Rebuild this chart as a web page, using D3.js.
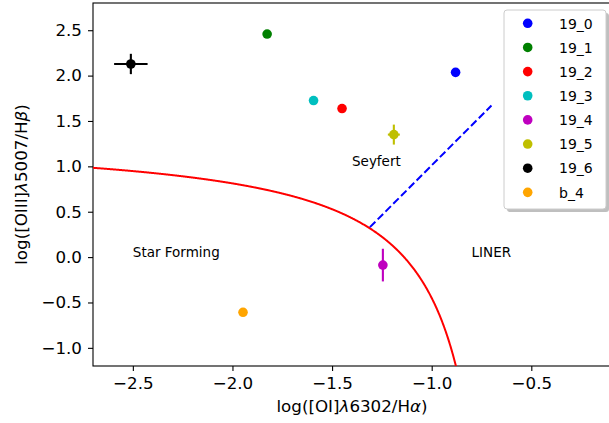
<!DOCTYPE html>
<html>
<head>
<meta charset="utf-8">
<script src="https://cdn.jsdelivr.net/npm/d3@7"></script>
<style>
  html, body { margin: 0; padding: 0; background: #fff; }
  svg { display: block; font-family: "DejaVu Sans", sans-serif; }
</style>
</head>
<body>
<svg id="chart" width="609" height="423"></svg>
<script>
// ---- data ----
const names  = ["19_0", "19_1", "19_2", "19_3", "19_4", "19_5", "19_6", "b_4"];
const xVals  = [-0.88, -1.826, -1.45, -1.593, -1.245, -1.19, -2.51, -1.947];
const yVals  = [2.036, 2.458, 1.637, 1.725, -0.088, 1.35, 2.128, -0.608];
const xErrs  = [0, 0, 0, 0, 0.02, 0.03, 0.084, 0];
const yErrs  = [0, 0, 0, 0, 0.18, 0.11, 0.112, 0];
const colors = ["#0000ff", "#008000", "#ff0000", "#00bfbf", "#bf00bf", "#bfbf00", "#000000", "#ffa500"];

const xTicks = [-2.5, -2.0, -1.5, -1.0, -0.5];
const yTicks = [-1.0, -0.5, 0.0, 0.5, 1.0, 1.5, 2.0, 2.5];

// Kewley et al. (2006) [OI] star-forming boundary: y = a/(x + b) + c
const kewleyCoef = [0.73, 0.59, 1.33];
// Seyfert / LINER dividing line end points
const seyLineX = [-1.31, -0.70];
const seyLineY = [0.33, 1.67];

const regionLabels = ["Star Forming", "Seyfert", "LINER"];
const regionX = [-2.5, -1.4, -0.8];
const regionY = [0.0, 1.0, 0.0];

// ---- layout ----
const svg = d3.select("#chart");
const L = 93, R = 611, T = 3, B = 366;
const x = d3.scaleLinear().domain([-2.7, -0.1]).range([L, R]);
const y = d3.scaleLinear().domain([-1.2, 2.8]).range([B, T]);
const fmt = d3.format(".1f");

svg.append("defs").append("clipPath").attr("id", "clip")
  .append("rect").attr("x", L).attr("y", T).attr("width", R - L).attr("height", B - T);

// axes
const xAxis = svg.append("g").attr("transform", `translate(0,${B})`)
  .call(d3.axisBottom(x).tickValues(xTicks).tickFormat(fmt).tickSize(5).tickPadding(6).tickSizeOuter(0));
const yAxis = svg.append("g").attr("transform", `translate(${L},0)`)
  .call(d3.axisLeft(y).tickValues(yTicks).tickFormat(fmt).tickSize(5).tickPadding(6).tickSizeOuter(0));
[xAxis, yAxis].forEach(g => {
  g.select(".domain").remove();
  g.selectAll("text").attr("font-size", 16.7).attr("font-family", "DejaVu Sans").attr("fill", "#000");
  g.selectAll("line").attr("stroke", "#000").attr("stroke-width", 1.1);
});

// spines
svg.append("rect").attr("x", L).attr("y", T).attr("width", R - L).attr("height", B - T)
  .attr("fill", "none").attr("stroke", "#000").attr("stroke-width", 1.1);

const plot = svg.append("g").attr("clip-path", "url(#clip)");

// Kewley curve
const [ka, kb, kc] = kewleyCoef;
const curvePts = d3.range(-2.7, -0.62, 0.002).map(v => [v, ka / (v + kb) + kc]);
plot.append("path")
  .attr("d", d3.line().x(d => x(d[0])).y(d => y(Math.max(d[1], -5)))(curvePts))
  .attr("fill", "none").attr("stroke", "#ff0000").attr("stroke-width", 2);

// Seyfert/LINER line
plot.append("path")
  .attr("d", d3.line().x(d => x(d[0])).y(d => y(d[1]))(seyLineX.map((v, i) => [v, seyLineY[i]])))
  .attr("fill", "none").attr("stroke", "#0000ff").attr("stroke-width", 2)
  .attr("stroke-dasharray", "7.7,3.3");

// region labels
svg.selectAll("text.region").data(regionLabels).enter().append("text")
  .attr("class", "region")
  .attr("x", (d, i) => x(regionX[i])).attr("y", (d, i) => y(regionY[i]))
  .attr("font-size", 13.5).attr("fill", "#000").text(d => d);

// points with error bars
names.forEach((n, i) => {
  const g = plot.append("g");
  if (xErrs[i] > 0) {
    g.append("line").attr("x1", x(xVals[i] - xErrs[i])).attr("x2", x(xVals[i] + xErrs[i]))
      .attr("y1", y(yVals[i])).attr("y2", y(yVals[i]))
      .attr("stroke", colors[i]).attr("stroke-width", 2.1);
  }
  if (yErrs[i] > 0) {
    g.append("line").attr("x1", x(xVals[i])).attr("x2", x(xVals[i]))
      .attr("y1", y(yVals[i] - yErrs[i])).attr("y2", y(yVals[i] + yErrs[i]))
      .attr("stroke", colors[i]).attr("stroke-width", 2.1);
  }
  g.append("circle").attr("cx", x(xVals[i])).attr("cy", y(yVals[i])).attr("r", 4.8)
    .attr("fill", colors[i]);
});

// legend
const lg = svg.append("g");
const lx = 504, ly = 10, lw = 102, lh = 199;
lg.append("rect").attr("x", lx + 3).attr("y", ly + 3).attr("width", lw).attr("height", lh)
  .attr("rx", 3).attr("fill", "#808080").attr("opacity", 0.5);
lg.append("rect").attr("x", lx).attr("y", ly).attr("width", lw).attr("height", lh)
  .attr("rx", 3).attr("fill", "#fff").attr("stroke", "#cccccc").attr("stroke-width", 1);
names.forEach((n, i) => {
  const cy = 23.3 + i * 24.15;
  lg.append("circle").attr("cx", 527.7).attr("cy", cy).attr("r", 4.8).attr("fill", colors[i]);
  lg.append("text").attr("x", 559).attr("y", cy + 5.2).attr("font-size", 14).attr("fill", "#000").text(n);
});

// axis labels
const xl = svg.append("text").attr("x", (L + R) / 2).attr("y", 412).attr("text-anchor", "middle")
  .attr("font-size", 16.7).attr("fill", "#000");
xl.append("tspan").text("log([OI]");
xl.append("tspan").attr("font-style", "italic").text("λ");
xl.append("tspan").text("6302/H");
xl.append("tspan").attr("font-style", "italic").text("α");
xl.append("tspan").text(")");

const yl = svg.append("text").attr("transform", `translate(27,${(T + B) / 2}) rotate(-90)`)
  .attr("text-anchor", "middle").attr("font-size", 16.7).attr("fill", "#000");
yl.append("tspan").text("log([OIII]");
yl.append("tspan").attr("font-style", "italic").text("λ");
yl.append("tspan").text("5007/H");
yl.append("tspan").attr("font-style", "italic").text("β");
yl.append("tspan").text(")");
</script>
</body>
</html>
